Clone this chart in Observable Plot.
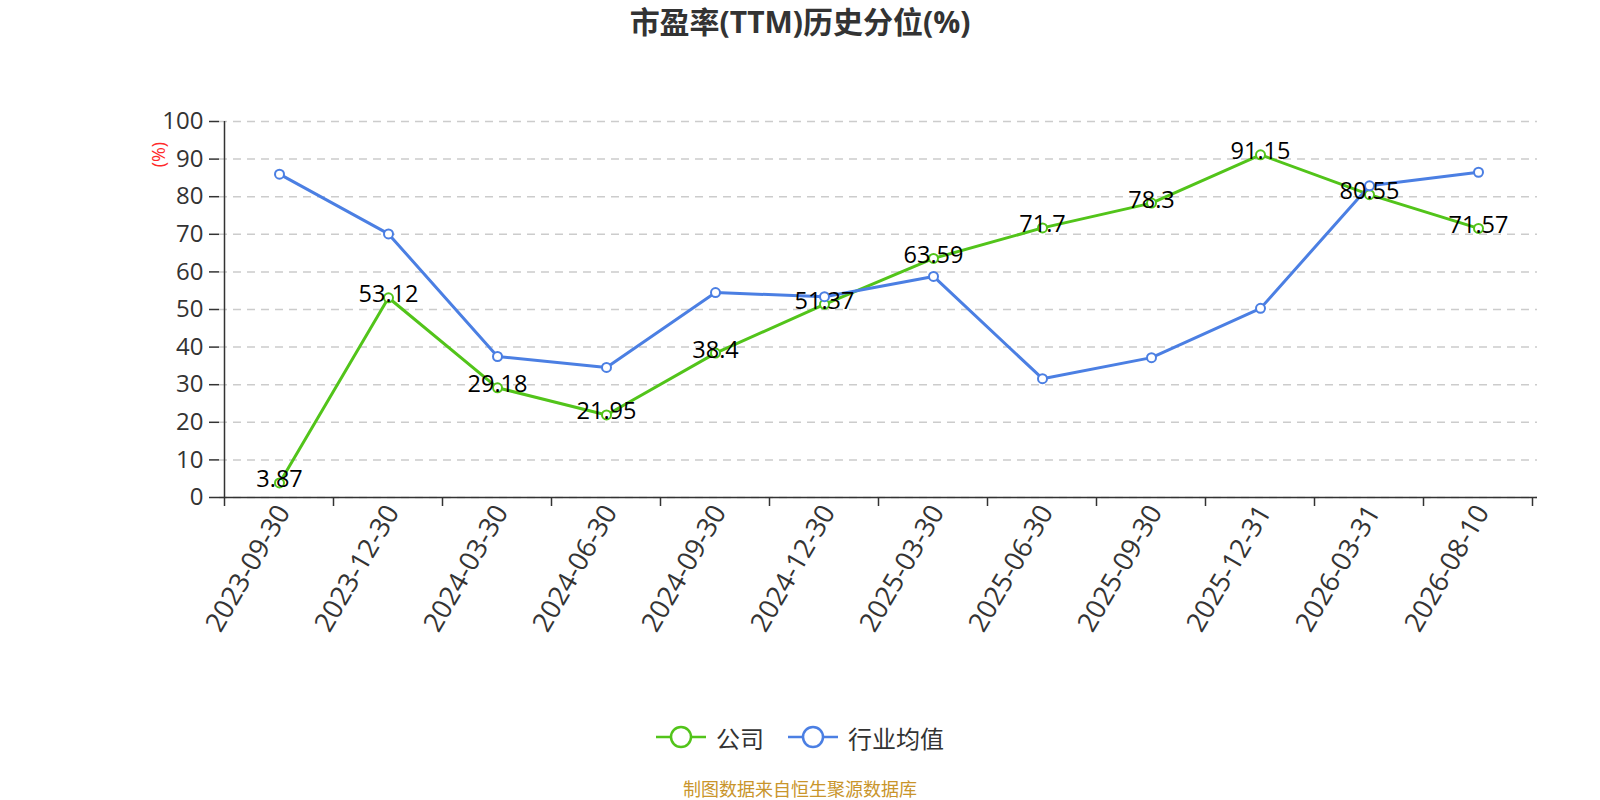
<!DOCTYPE html>
<html>
<head>
<meta charset="utf-8">
<script src="https://cdn.jsdelivr.net/npm/d3@7"></script>
<script src="https://cdn.jsdelivr.net/npm/@observablehq/plot@0.6"></script>
<style>
  html, body { margin: 0; padding: 0; background: #fff; overflow: hidden; }
  body { width: 1600px; height: 800px; font-family: "Open Sans", "Noto Sans CJK SC", sans-serif; }
  #title { height: 50px; line-height: 44px; text-align: center; font-size: 30px; font-weight: bold; color: #333; }
  #chart svg { display: block; }
  #legend { margin-top: 40px; height: 34px; display: flex; justify-content: center; align-items: center; gap: 24px; font-size: 24px; color: #333; font-family: "Noto Sans CJK SC", sans-serif; }
  .item { display: flex; align-items: center; gap: 10px; }
  #caption { margin-top: 23px; text-align: center; font-size: 18px; line-height: 22px; color: #c9952b; font-family: "Noto Sans CJK SC", sans-serif; }
</style>
</head>
<body>
<div id="title">市盈率(TTM)历史分位(%)</div>
<div id="chart"></div>
<div id="legend"></div>
<div id="caption">制图数据来自恒生聚源数据库</div>
<script>
const dates = ["2023-09-30","2023-12-30","2024-03-30","2024-06-30","2024-09-30","2024-12-30","2025-03-30","2025-06-30","2025-09-30","2025-12-31","2026-03-31","2026-08-10"];
const company = [3.87, 53.12, 29.18, 21.95, 38.4, 51.37, 63.59, 71.7, 78.3, 91.15, 80.55, 71.57];
const industry = [86.0, 70.1, 37.5, 34.6, 54.5, 53.4, 58.8, 31.6, 37.2, 50.3, 82.9, 86.5];
const seriesNames = ["公司", "行业均值"];
const seriesColors = ["#52c41a", "#4b7fe3"];
const yTicks = [0, 10, 20, 30, 40, 50, 60, 70, 80, 90, 100];
const yUnit = "(%)";

const rowsCompany = dates.map((d, i) => ({date: d, value: company[i]}));
const rowsIndustry = dates.map((d, i) => ({date: d, value: industry[i]}));

const FONT = '"Open Sans", "Noto Sans CJK SC", sans-serif';

const chart = Plot.plot({
  width: 1600,
  height: 630,
  marginLeft: 219,
  marginRight: 63,
  marginTop: 71,
  marginBottom: 183,
  style: {fontFamily: FONT, background: "#fff", overflow: "visible"},
  x: {type: "point", domain: dates, padding: 0.5, label: null},
  y: {domain: [0, 100], label: null},
  marks: [
    Plot.gridY(yTicks, {stroke: "#cccccc", strokeOpacity: 1, strokeWidth: 1.5, strokeDasharray: "8,6"}),
    Plot.axisY(yTicks, {tickSize: 10, tickPadding: 6, fontSize: 24, fill: "#333", stroke: "#333", strokeWidth: 1.5, label: null}),
    Plot.axisX({tickRotate: -60, tickSize: 0, tickPadding: 10, fontSize: 27, fill: "#333", label: null, dx: 4}),
    Plot.ruleY([0], {stroke: "#333", strokeWidth: 1.5}),
    Plot.line(rowsCompany, {x: "date", y: "value", stroke: seriesColors[0], strokeWidth: 3}),
    Plot.dot(rowsCompany, {x: "date", y: "value", r: 4.5, fill: "#fff", stroke: seriesColors[0], strokeWidth: 2}),
    Plot.line(rowsIndustry, {x: "date", y: "value", stroke: seriesColors[1], strokeWidth: 3}),
    Plot.dot(rowsIndustry, {x: "date", y: "value", r: 4.5, fill: "#fff", stroke: seriesColors[1], strokeWidth: 2}),
    Plot.text(rowsCompany, {x: "date", y: "value", text: d => String(d.value), fontSize: 23.5, fill: "#000", dy: -3})
  ]
});

// axis lines and category-boundary ticks, placed through Plot's own scales
const xs = chart.scale("x");
const ys = chart.scale("y");
const step = xs.apply(dates[1]) - xs.apply(dates[0]);
const edges = dates.map(d => xs.apply(d) - step / 2).concat([xs.apply(dates[dates.length - 1]) + step / 2]);
const svg = d3.select(chart);
const g = svg.append("g").attr("stroke", "#333").attr("stroke-width", 1.5);
g.append("line").attr("x1", edges[0]).attr("x2", edges[0]).attr("y1", ys.apply(0)).attr("y2", ys.apply(100));
edges.forEach(x => g.append("line").attr("x1", x).attr("x2", x).attr("y1", ys.apply(0)).attr("y2", ys.apply(0) + 9));
svg.append("text")
  .attr("transform", `translate(${edges[0] - 64},${ys.apply(90) - 4}) rotate(-90)`)
  .attr("text-anchor", "middle").attr("dominant-baseline", "middle")
  .attr("fill", "#ff2a2a").attr("font-size", 18).attr("font-family", FONT)
  .text(yUnit);

document.getElementById("chart").appendChild(chart);

// legend
const legend = document.getElementById("legend");
seriesNames.forEach((name, i) => {
  const item = document.createElement("div");
  item.className = "item";
  item.innerHTML = `<svg width="50" height="24"><line x1="0" x2="50" y1="12" y2="12" stroke="${seriesColors[i]}" stroke-width="2.5"/><circle cx="25" cy="12" r="10" fill="#fff" stroke="${seriesColors[i]}" stroke-width="2.5"/></svg><span>${name}</span>`;
  legend.appendChild(item);
});
</script>
</body>
</html>
